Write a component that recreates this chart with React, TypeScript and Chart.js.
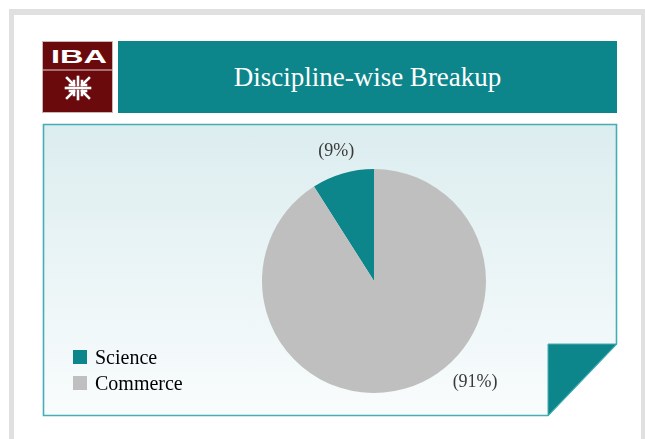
import React, { useEffect, useRef } from 'react';
import { Chart, registerables } from 'chart.js';

Chart.register(...registerables);

const title = 'Discipline-wise Breakup';
const categories = ['Science', 'Commerce'];
const values = [9, 91];
const sliceColors = ['#0c868b', '#bfbfbf'];

const total = values.reduce((a, b) => a + b, 0);
const SERIF = '"Liberation Serif", "Times New Roman", serif';

const labelPlugin = {
  id: 'sliceLabels',
  afterDraw(chart: any) {
    const ctx = chart.ctx;
    const meta = chart.getDatasetMeta(0);
    ctx.save();
    ctx.font = `18px ${SERIF}`;
    ctx.fillStyle = '#3a3a3a';
    ctx.textAlign = 'center';
    ctx.textBaseline = 'middle';
    meta.data.forEach((arc: any, i: number) => {
      const p = arc.getProps(['x', 'y', 'startAngle', 'endAngle', 'outerRadius'], true);
      const span = p.endAngle - p.startAngle;
      let a = (p.startAngle + p.endAngle) / 2;
      let d = p.outerRadius + 23;
      if (span > Math.PI) {
        a = Math.PI / 4;
        d = p.outerRadius + 31;
      }
      const pct = Math.round((values[i] / total) * 100);
      ctx.fillText(`(${pct}%)`, p.x + Math.cos(a) * d, p.y + Math.sin(a) * d);
    });
    ctx.restore();
  },
};

function PieChart() {
  const ref = useRef<HTMLCanvasElement>(null);
  useEffect(() => {
    if (!ref.current) return;
    const chart = new Chart(ref.current, {
      type: 'pie',
      data: {
        labels: categories,
        datasets: [{ data: values, backgroundColor: sliceColors, borderWidth: 0 }],
      },
      options: {
        responsive: false,
        animation: false,
        rotation: -(values[0] / total) * 360,
        layout: { padding: { left: 219, right: 131, top: 45, bottom: 23 } },
        plugins: { legend: { display: false }, tooltip: { enabled: false } },
      } as any,
      plugins: [labelPlugin],
    });
    return () => chart.destroy();
  }, []);
  return (
    <canvas
      ref={ref}
      width={574}
      height={292}
      style={{ position: 'absolute', left: 43, top: 124, width: 574, height: 292 }}
    />
  );
}

export default function App() {
  return (
    <div
      style={{
        position: 'fixed',
        left: 0,
        top: 0,
        width: 645,
        height: 439,
        overflow: 'hidden',
        background: '#ffffff',
        fontFamily: SERIF,
      }}
    >
      <div
        style={{
          position: 'absolute',
          left: 9,
          top: 9,
          width: 637,
          height: 520,
          borderStyle: 'solid',
          borderColor: '#e0e0e0',
          borderWidth: '6px 5px 5px 5px',
          boxSizing: 'border-box',
        }}
      />
      <svg width={645} height={439} style={{ position: 'absolute', left: 0, top: 0 }}>
        <defs>
          <linearGradient id="panelGrad" x1="0" y1="0" x2="0" y2="1">
            <stop offset="0" stopColor="#dcedef" />
            <stop offset="1" stopColor="#f9fcfd" />
          </linearGradient>
        </defs>
        <polygon
          points="43.5,124.5 616.5,124.5 616.5,344 548,415.5 43.5,415.5"
          fill="url(#panelGrad)"
          stroke="#45adb5"
          strokeWidth={1.6}
        />
        <polygon points="548,344 616.5,344 548,415.5" fill="#0c868b" stroke="#45adb5" strokeWidth={1} />
        {/* logo */}
        <rect x={42.5} y={41.5} width={70} height={71} fill="#6b0a0d" stroke="#c9b8b8" strokeWidth={1} />
        <line x1={42.5} y1={70} x2={112.5} y2={70} stroke="#e3d3d3" strokeWidth={1.2} />
        <text
          x={51}
          y={63}
          textAnchor="start"
          fill="#ffffff"
          fontFamily='"Liberation Sans", "DejaVu Sans", sans-serif'
          fontWeight="bold"
          fontSize={19}
          textLength={56}
          lengthAdjust="spacingAndGlyphs"
        >
          IBA
        </text>
        <g stroke="#ffffff" strokeWidth={2.6} strokeLinecap="square" fill="none">
          <line x1={67} y1={78} x2={74} y2={85} />
          <line x1={78} y1={77} x2={78} y2={85} />
          <line x1={89} y1={78} x2={82} y2={85} />
          <line x1={66} y1={88} x2={90} y2={88} />
          <line x1={74} y1={91} x2={67} y2={98} />
          <line x1={78} y1={91} x2={78} y2={99} />
          <line x1={82} y1={91} x2={89} y2={98} />
          <polyline points="70,85 74,85 74,81" />
          <polyline points="86,85 82,85 82,81" />
          <polyline points="70,91 74,91 74,95" />
          <polyline points="86,91 82,91 82,95" />
        </g>
      </svg>
      <div
        style={{
          position: 'absolute',
          left: 118,
          top: 41,
          width: 499,
          height: 72,
          background: '#0c868b',
          color: '#ffffff',
          display: 'flex',
          alignItems: 'center',
          justifyContent: 'center',
          fontSize: 27,
          fontFamily: SERIF,
        }}
      >
        {title}
      </div>
      <PieChart />
      <div style={{ position: 'absolute', left: 73, top: 344 }}>
        {categories.map((c, i) => (
          <div
            key={c}
            style={{ display: 'flex', alignItems: 'center', height: 26, fontSize: 20, color: '#000' }}
          >
            <span
              style={{
                display: 'inline-block',
                width: 14,
                height: 14,
                background: sliceColors[i],
                marginRight: 8,
              }}
            />
            <span>{c}</span>
          </div>
        ))}
      </div>
    </div>
  );
}
